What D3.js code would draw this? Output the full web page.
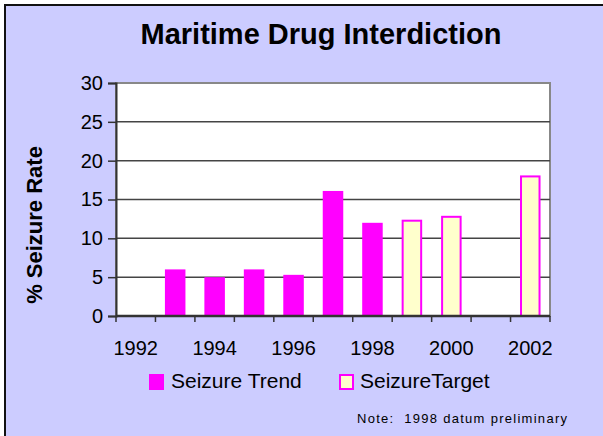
<!DOCTYPE html>
<html lang="en">
  <head>
    <meta charset="UTF-8" />
    <title>Maritime Drug Interdiction</title>
    <script src="https://cdn.jsdelivr.net/npm/d3@7"></script>
    <style>
      body { margin: 0; background: #fff; }
      svg { display: block; font-family: Arial, "Liberation Sans", sans-serif; }
    </style>
  </head>
  <body>
    <svg id="chart" width="603" height="436"></svg>

    <script>
      // data
      let years = ["1992", "1993", "1994", "1995", "1996", "1997", "1998", "1999", "2000", "2001", "2002"];
      let trendValues = [null, 6, 5, 6, 5.3, 16.1, 12, null, null, null, null];
      let targetValues = [null, null, null, null, null, null, null, 12.4, 12.9, null, 18.1];
      let yTicks = [0, 5, 10, 15, 20, 25, 30];
      let xLabels = ["1992", "1994", "1996", "1998", "2000", "2002"];

      let width = 603, height = 436;
      let plot = { left: 116, right: 550, top: 83, bottom: 316 };

      let svg = d3.select("#chart");

      // chart background with border on top/left
      svg.append("rect")
        .attr("x", 5).attr("y", 5)
        .attr("width", 620).attr("height", 460)
        .attr("fill", "#ccccff")
        .attr("stroke", "#111").attr("stroke-width", 2);

      // title
      svg.append("text")
        .attr("x", 321).attr("y", 44)
        .attr("text-anchor", "middle")
        .attr("font-size", 29).attr("font-weight", "bold")
        .text("Maritime Drug Interdiction");

      let x = d3.scaleBand().domain(years).range([plot.left, plot.right]).padding(0);
      let y = d3.scaleLinear().domain([0, 30]).range([plot.bottom, plot.top]);

      // plot area
      svg.append("rect")
        .attr("x", plot.left).attr("y", plot.top)
        .attr("width", plot.right - plot.left).attr("height", plot.bottom - plot.top)
        .attr("fill", "#fff")
        .attr("stroke", "#888").attr("stroke-width", 2);

      // gridlines
      svg.append("g")
        .selectAll("line")
        .data(yTicks.filter(d => d > 0 && d < 30))
        .join("line")
        .attr("x1", plot.left).attr("x2", plot.right)
        .attr("y1", d => y(d)).attr("y2", d => y(d))
        .attr("stroke", "#444").attr("stroke-width", 1.5);

      let barW = x.bandwidth() * 0.52;

      // seizure trend bars
      svg.append("g")
        .selectAll("rect")
        .data(years.map((yr, i) => ({ yr, v: trendValues[i] })).filter(d => d.v != null))
        .join("rect")
        .attr("x", d => x(d.yr) + (x.bandwidth() - barW) / 2)
        .attr("y", d => y(d.v))
        .attr("width", barW)
        .attr("height", d => y(0) - y(d.v))
        .attr("fill", "#ff00ff");

      // seizure target bars
      svg.append("g")
        .selectAll("rect")
        .data(years.map((yr, i) => ({ yr, v: targetValues[i] })).filter(d => d.v != null))
        .join("rect")
        .attr("x", d => x(d.yr) + (x.bandwidth() - barW) / 2 + 1)
        .attr("y", d => y(d.v) + 1)
        .attr("width", barW - 2)
        .attr("height", d => y(0) - y(d.v) - 1)
        .attr("fill", "#ffffcc")
        .attr("stroke", "#ff00ff").attr("stroke-width", 2);

      // y axis
      let yAxis = svg.append("g")
        .attr("transform", `translate(${plot.left},0)`)
        .call(d3.axisLeft(y).tickValues(yTicks).tickSize(8).tickPadding(5));
      yAxis.select(".domain").attr("stroke", "#333").attr("stroke-width", 2);
      yAxis.selectAll(".tick line").attr("stroke", "#333").attr("stroke-width", 1.5);
      yAxis.selectAll(".tick text")
        .attr("font-size", 20).attr("font-family", "Arial, 'Liberation Sans', sans-serif")
        .attr("fill", "#000");

      // x axis: ticks at category boundaries
      let bounds = years.map(d => x(d)).concat([plot.right]);
      svg.append("line")
        .attr("x1", plot.left).attr("x2", plot.right)
        .attr("y1", plot.bottom).attr("y2", plot.bottom)
        .attr("stroke", "#333").attr("stroke-width", 2.5);
      svg.append("g")
        .selectAll("line")
        .data(bounds)
        .join("line")
        .attr("x1", d => d).attr("x2", d => d)
        .attr("y1", plot.bottom).attr("y2", plot.bottom + 6)
        .attr("stroke", "#333").attr("stroke-width", 1.5);
      svg.append("g")
        .selectAll("text")
        .data(xLabels)
        .join("text")
        .attr("x", d => x(d) + x.bandwidth() / 2)
        .attr("y", 355)
        .attr("text-anchor", "middle")
        .attr("font-size", 20)
        .text(d => d);

      // y axis title
      svg.append("text")
        .attr("transform", "translate(42,225) rotate(-90)")
        .attr("text-anchor", "middle")
        .attr("font-size", 22).attr("font-weight", "bold")
        .text("% Seizure Rate");

      // legend
      let legend = svg.append("g");
      legend.append("rect")
        .attr("x", 149).attr("y", 374).attr("width", 15).attr("height", 16)
        .attr("fill", "#ff00ff");
      legend.append("text")
        .attr("x", 171).attr("y", 388)
        .attr("font-size", 21)
        .text("Seizure Trend");
      legend.append("rect")
        .attr("x", 340).attr("y", 375).attr("width", 13).attr("height", 14)
        .attr("fill", "#ffffcc")
        .attr("stroke", "#ff00ff").attr("stroke-width", 2);
      legend.append("text")
        .attr("x", 360).attr("y", 388)
        .attr("font-size", 21)
        .text("SeizureTarget");

      // footnote
      svg.append("text")
        .attr("x", 357).attr("y", 423)
        .attr("font-size", 13)
        .attr("textLength", 210).attr("lengthAdjust", "spacing")
        .style("white-space", "pre")
        .text("Note:  1998 datum preliminary");
    </script>
  </body>
</html>
